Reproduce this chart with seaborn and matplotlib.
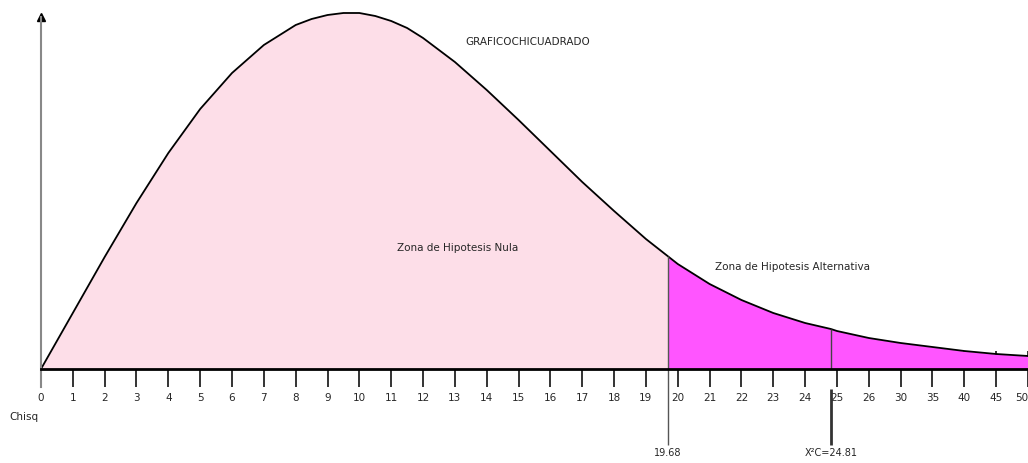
import seaborn as sns
import matplotlib.pyplot as plt
import pandas as pd

# ----------------------------------
# Grafico chi cuadrado (curva)
# ----------------------------------
# posicion sobre el eje (0..26 lineal, luego 30, 35, 40, 45, 50)
posicion = [0, 1, 2, 3, 4, 5, 6, 7, 8, 8.5, 9, 9.5, 10, 10.5, 11, 11.5, 12, 13, 14,
            15, 16, 17, 18, 19, 19.68, 20, 21, 22, 23, 24, 24.81, 25, 26, 27, 28,
            29, 30, 31]
altura = [0, 56, 112, 166, 216, 260, 296, 324, 344, 350, 354, 356, 356, 353, 348,
          341, 331, 307, 279, 249, 218, 187, 158, 130, 113, 105, 85, 69, 56, 46,
          40, 38, 31, 26, 22, 18, 15, 13]

tick_pos = list(range(32))
tick_labels = [str(i) for i in range(27)] + ['30', '35', '40', '45', '50']

valor_critico = 19.68
chi_calculado = 24.81

curva = pd.DataFrame({'Chisq': posicion, 'Altura': altura})

sns.set_style('white')
plt.rcParams['font.family'] = ['DejaVu Sans']

fig = plt.figure(figsize=(10.28, 4.63), dpi=100)
ax = fig.add_axes([0, 0, 1, 1])

nula = curva['Chisq'] <= valor_critico
alterna = curva['Chisq'] >= valor_critico
ax.fill_between(curva['Chisq'][nula], 0, curva['Altura'][nula], color='#FDDEE8', lw=0)
ax.fill_between(curva['Chisq'][alterna], 0, curva['Altura'][alterna], color='#FF55FF', lw=0)
sns.lineplot(x='Chisq', y='Altura', data=curva, color='black', lw=1.3, ax=ax)

# lineas de valor critico y chi calculado
h_crit = altura[posicion.index(valor_critico)]
h_calc = altura[posicion.index(chi_calculado)]
ax.vlines(valor_critico, -76, h_crit, color='#555555', lw=1)
ax.vlines(chi_calculado, 0, h_calc, color='#444444', lw=1)
ax.vlines(chi_calculado, -76, -20, color='#333333', lw=2)
ax.text(valor_critico, -84, '19.68', ha='center', va='center', fontsize=7)
ax.text(chi_calculado, -84, 'X²C=24.81', ha='center', va='center', fontsize=7)

ax.text(15.29, 327, 'GRAFICOCHICUADRADO', ha='center', va='center', fontsize=7.5)
ax.text(13.09, 121, 'Zona de Hipotesis Nula', ha='center', va='center', fontsize=7.5)
ax.text(23.61, 102, 'Zona de Hipotesis Alternativa', ha='center', va='center', fontsize=7.5)
ax.text(-1.0, -48, 'Chisq', ha='left', va='center', fontsize=7.5)

# ejes
ax.set_xlim(-1.287, 31.0)
ax.set_ylim(-94, 369)
ax.spines['top'].set_visible(False)
ax.spines['right'].set_visible(False)
ax.spines['bottom'].set_position(('data', 0))
ax.spines['bottom'].set_bounds(0, 31.0)
ax.spines['bottom'].set_linewidth(2)
ax.spines['bottom'].set_color('black')
ax.spines['left'].set_position(('data', 0))
ax.spines['left'].set_bounds(-18, 352)
ax.spines['left'].set_color('#888888')
ax.spines['left'].set_linewidth(1.5)
ax.plot(0, 352, marker='^', color='black', ms=6, clip_on=False)

ax.set_xticks(tick_pos)
ax.set_xticklabels(tick_labels)
ax.tick_params(axis='x', bottom=True, direction='inout', length=26.6, width=1.4,
               color='#333333', labelsize=7.5, pad=4)
ax.xaxis.get_majorticklabels()[-1].set_ha('right')
ax.set_yticks([])
ax.set_xlabel('')
ax.set_ylabel('')
ax.grid(False)

plt.savefig('out.png', dpi=100)
